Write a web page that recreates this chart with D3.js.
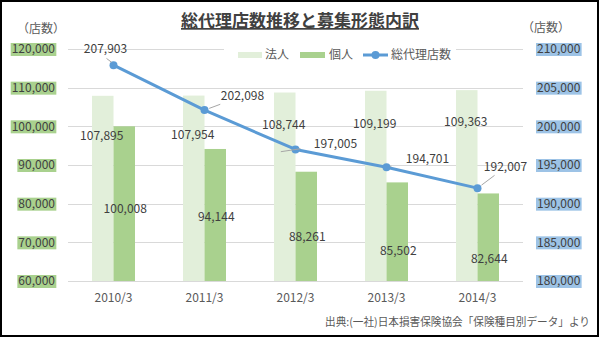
<!DOCTYPE html>
<html>
<head>
<meta charset="utf-8">
<script src="https://cdn.jsdelivr.net/npm/d3@7"></script>
<style>
  html, body { margin: 0; padding: 0; background: #fff; }
  svg { display: block; }
  text { font-family: "Noto Sans CJK JP", "Noto Sans", sans-serif; }
</style>
</head>
<body>
<svg id="chart" width="600" height="338"></svg>
<script>
// 募集形態別の代理店数（年度末）
const categories = ["2010/3", "2011/3", "2012/3", "2013/3", "2014/3"];
const seriesNames = ["法人", "個人", "総代理店数"];
const houjin = [107895, 107954, 108744, 109199, 109363];
const kojin = [100008, 94144, 88261, 85502, 82644];
const total = [207903, 202098, 197005, 194701, 192007];
const leftTicks = [60000, 70000, 80000, 90000, 100000, 110000, 120000];
const rightTicks = [180000, 185000, 190000, 195000, 200000, 205000, 210000];

const titleText = "総代理店数推移と募集形態内訳";
const unitText = "（店数）";
const sourceText = "出典:(一社)日本損害保険協会「保険種目別データ」より";

// label placement tweaks (pixels)
const houjinLabelDy = [40, 39, 32, 33, 32];
const kojinLabelDy = [82, 68, 65, 68, 65];
const totalLabelOffset = [[-8, -16], [38, -14], [40, -6], [41, -9], [28, -21]];

const colors = { houjin: "#e2efda", kojin: "#a9d18e", line: "#5b9bd5", grid: "#d9d9d9",
                 text: "#595959", leftBox: "#a9d18e", rightBox: "#9dc3e6" };

const svg = d3.select("#chart");
const plot = { left: 68, right: 523, top: 49, bottom: 281 };

const x = d3.scaleBand().domain(categories).range([plot.left, plot.right]).padding(0);
const x1 = d3.scaleBand().domain(["法人", "個人"]).range([0, x.bandwidth()])
  .paddingInner(0).paddingOuter(1.116);
const yL = d3.scaleLinear().domain([60000, 120000]).range([plot.bottom, plot.top]);
const yR = d3.scaleLinear().domain([180000, 210000]).range([plot.bottom, plot.top]);
const fmt = d3.format(",");

// outer frame
svg.append("rect").attr("x", 1).attr("y", 1).attr("width", 597).attr("height", 335)
  .attr("fill", "#fff").attr("stroke", "#000").attr("stroke-width", 2);

// gridlines
svg.append("g").selectAll("line").data(leftTicks).join("line")
  .attr("x1", plot.left).attr("x2", plot.right)
  .attr("y1", d => Math.round(yL(d)) + 0.5).attr("y2", d => Math.round(yL(d)) + 0.5)
  .attr("stroke", colors.grid).attr("stroke-width", 1);

// left axis labels with coloured background
const leftAxis = svg.append("g").attr("transform", `translate(55,0)`)
  .call(d3.axisLeft(yL).tickValues(leftTicks).tickFormat(fmt).tickSize(0).tickPadding(0));
leftAxis.select(".domain").remove();
leftAxis.selectAll("text").attr("font-size", 12).attr("fill", "#404040")
  .attr("font-family", "'Noto Sans CJK JP', sans-serif");
leftAxis.selectAll(".tick").each(function () {
  const t = d3.select(this).select("text");
  const b = t.node().getBBox();
  d3.select(this).insert("rect", "text").attr("x", b.x - 1).attr("y", -6.5)
    .attr("width", b.width + 2).attr("height", 13).attr("fill", colors.leftBox);
});

// right axis labels with coloured background
const rightAxis = svg.append("g").attr("transform", `translate(537,0)`)
  .call(d3.axisRight(yR).tickValues(rightTicks).tickFormat(fmt).tickSize(0).tickPadding(0));
rightAxis.select(".domain").remove();
rightAxis.selectAll("text").attr("font-size", 12).attr("fill", "#404040")
  .attr("font-family", "'Noto Sans CJK JP', sans-serif");
rightAxis.selectAll(".tick").each(function () {
  const t = d3.select(this).select("text");
  const b = t.node().getBBox();
  d3.select(this).insert("rect", "text").attr("x", b.x - 1).attr("y", -6.5)
    .attr("width", b.width + 2).attr("height", 13).attr("fill", colors.rightBox);
});

// unit captions
svg.append("text").attr("x", 41).attr("y", 33).attr("text-anchor", "middle")
  .attr("font-size", 12).attr("fill", colors.text).text(unitText);
svg.append("text").attr("x", 546).attr("y", 32).attr("text-anchor", "middle")
  .attr("font-size", 12).attr("fill", colors.text).text(unitText);

// bars
const barG = svg.append("g");
barG.selectAll("rect.h").data(houjin).join("rect").attr("class", "h")
  .attr("x", (d, i) => x(categories[i]) + x1("法人"))
  .attr("width", x1.bandwidth())
  .attr("y", d => yL(d)).attr("height", d => plot.bottom - yL(d))
  .attr("fill", colors.houjin);
barG.selectAll("rect.k").data(kojin).join("rect").attr("class", "k")
  .attr("x", (d, i) => x(categories[i]) + x1("個人"))
  .attr("width", x1.bandwidth())
  .attr("y", d => yL(d)).attr("height", d => plot.bottom - yL(d))
  .attr("fill", colors.kojin);

// bar value labels
svg.append("g").selectAll("text").data(houjin).join("text")
  .attr("x", (d, i) => x(categories[i]) + x1("法人") + x1.bandwidth() / 2 - 1)
  .attr("y", (d, i) => yL(d) + houjinLabelDy[i])
  .attr("dy", "0.35em").attr("text-anchor", "middle")
  .attr("font-size", 12).attr("fill", "#404040").text(fmt);
svg.append("g").selectAll("text").data(kojin).join("text")
  .attr("x", (d, i) => x(categories[i]) + x1("個人") + x1.bandwidth() / 2 + 1)
  .attr("y", (d, i) => yL(d) + kojinLabelDy[i])
  .attr("dy", "0.35em").attr("text-anchor", "middle")
  .attr("font-size", 12).attr("fill", "#404040").text(fmt);

// category labels
svg.append("g").selectAll("text").data(categories).join("text")
  .attr("x", d => x(d) + x.bandwidth() / 2).attr("y", 298).attr("dy", "0.35em")
  .attr("text-anchor", "middle").attr("font-size", 12).attr("fill", colors.text).text(d => d);

// total line
const pts = total.map((v, i) => [x(categories[i]) + x.bandwidth() / 2, yR(v)]);
svg.append("path").datum(pts).attr("d", d3.line())
  .attr("fill", "none").attr("stroke", colors.line).attr("stroke-width", 3)
  .attr("stroke-linejoin", "round");
svg.append("g").selectAll("circle").data(pts).join("circle")
  .attr("cx", d => d[0]).attr("cy", d => d[1]).attr("r", 4).attr("fill", colors.line);

// total labels with leader lines
const leaderG = svg.append("g");
const totalLabelG = svg.append("g");
total.forEach((v, i) => {
  const [mx, my] = pts[i];
  const lx = mx + totalLabelOffset[i][0], ly = my + totalLabelOffset[i][1];
  const t = totalLabelG.append("text").attr("x", lx).attr("y", ly).attr("dy", "0.35em")
    .attr("text-anchor", "middle").attr("font-size", 12).attr("fill", "#404040").text(fmt(v));
  const b = t.node().getBBox();
  let path;
  if (b.x - mx > 20) {
    const ex = b.x - 2, ey = ly - 2, bx = ex - 6;
    const ang = Math.atan2(ey - my, bx - mx);
    path = [[mx + 5 * Math.cos(ang), my + 5 * Math.sin(ang)], [bx, ey], [ex, ey]];
  } else if (b.x - mx > 0) {
    const ang = Math.atan2(ly - my, lx - mx);
    const ty = b.y + b.height + 1;
    const k = (ty - my) / Math.sin(ang);
    path = [[mx + 5 * Math.cos(ang), my + 5 * Math.sin(ang)],
            [mx + k * Math.cos(ang), ty]];
  } else {
    // label sits above-left of its point
    path = [[mx - 2, my - 3], [mx - 7, b.y + b.height + 2]];
  }
  leaderG.append("path").attr("d", d3.line()(path)).attr("fill", "none")
    .attr("stroke", "#a6a6a6").attr("stroke-width", 1);
});

// legend
const legend = svg.append("g");
legend.append("rect").attr("x", 224).attr("y", 42).attr("width", 232).attr("height", 24).attr("fill", "#fff");
legend.append("rect").attr("x", 238).attr("y", 52).attr("width", 24).attr("height", 6).attr("fill", colors.houjin);
legend.append("text").attr("x", 265).attr("y", 55).attr("dy", "0.35em").attr("font-size", 12)
  .attr("fill", colors.text).text(seriesNames[0]);
legend.append("rect").attr("x", 300).attr("y", 52).attr("width", 25).attr("height", 6).attr("fill", colors.kojin);
legend.append("text").attr("x", 329).attr("y", 55).attr("dy", "0.35em").attr("font-size", 12)
  .attr("fill", colors.text).text(seriesNames[1]);
legend.append("line").attr("x1", 363).attr("x2", 388).attr("y1", 55).attr("y2", 55)
  .attr("stroke", colors.line).attr("stroke-width", 3);
legend.append("circle").attr("cx", 375.5).attr("cy", 55).attr("r", 4).attr("fill", colors.line);
legend.append("text").attr("x", 391).attr("y", 55).attr("dy", "0.35em").attr("font-size", 12)
  .attr("fill", colors.text).text(seriesNames[2]);

// title
svg.append("text").attr("x", 300).attr("y", 27).attr("text-anchor", "middle")
  .attr("font-size", 17).attr("font-weight", "bold").attr("fill", "#404040")
  .attr("text-decoration", "underline").text(titleText);

// source note
svg.append("text").attr("x", 590).attr("y", 322).attr("dy", "0.35em").attr("text-anchor", "end")
  .attr("font-size", 11).attr("fill", colors.text)
  .attr("textLength", 265).attr("lengthAdjust", "spacingAndGlyphs").text(sourceText);
</script>
</body>
</html>
